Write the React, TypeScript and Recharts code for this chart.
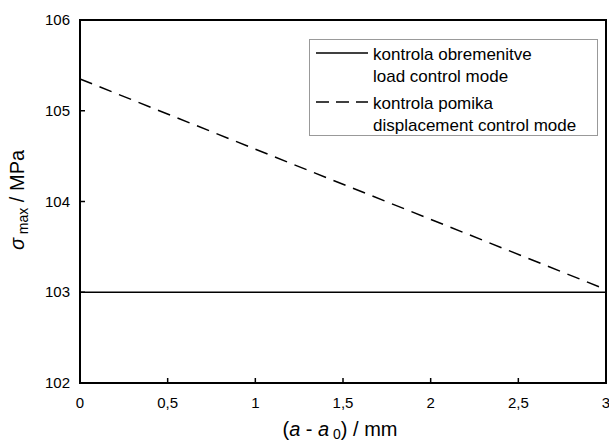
import React from 'react';
import { LineChart, Line, XAxis, YAxis, Legend, ReferenceArea, Label } from 'recharts';

const crackLength = [0, 3];
const loadControl = [103.0, 103.0];
const displacementControl = [105.35, 103.03];
const xTicks = [0, 0.5, 1, 1.5, 2, 2.5, 3];
const yTicks = [102, 103, 104, 105, 106];

const data = crackLength.map((x, i) => ({
  x,
  load: loadControl[i],
  disp: displacementControl[i],
}));

const FONT = '"Liberation Sans", Arial, sans-serif';

const XTick = (props: any) => {
  const { x, y, payload } = props;
  return (
    <g>
      <line x1={x} y1={y} x2={x} y2={y - 5} stroke="#000" strokeWidth={1.5} />
      <text x={x} y={y + 25} textAnchor="middle" fontSize={15} fontFamily={FONT} fill="#000">
        {String(payload.value).replace('.', ',')}
      </text>
    </g>
  );
};

const YTick = (props: any) => {
  const { x, y, payload } = props;
  return (
    <g>
      <line x1={x} y1={y} x2={x + 5} y2={y} stroke="#000" strokeWidth={1.5} />
      <text x={x - 10} y={y + 5} textAnchor="end" fontSize={15} fontFamily={FONT} fill="#000">
        {payload.value}
      </text>
    </g>
  );
};

const LegendBox = () => (
  <div style={{ width: 289, height: 97, border: '1px solid #999', boxSizing: 'border-box', background: '#fff' }}>
    <svg width={287} height={95} style={{ display: 'block' }}>
      <line x1={6} y1={13} x2={58} y2={13} stroke="#000" strokeWidth={1.5} />
      <text x={63} y={20} fontSize={17} fontFamily={FONT} fill="#000">kontrola obremenitve</text>
      <text x={63} y={42} fontSize={17} fontFamily={FONT} fill="#000">load control mode</text>
      <line x1={6} y1={62} x2={58} y2={62} stroke="#000" strokeWidth={1.5} strokeDasharray="13 7" />
      <text x={63} y={69} fontSize={17} fontFamily={FONT} fill="#000">kontrola pomika</text>
      <text x={63} y={91} fontSize={17} fontFamily={FONT} fill="#000">displacement control mode</text>
    </svg>
  </div>
);

export default function App() {
  return (
    <div style={{ position: 'absolute', left: 0, top: 0, background: '#fff' }}>
      <LineChart width={609} height={442} data={data} margin={{ top: 20, right: 3, left: 0, bottom: 0 }}>
        <XAxis
          dataKey="x"
          type="number"
          domain={[0, 3]}
          ticks={xTicks}
          axisLine={false}
          tickLine={false}
          tickSize={0}
          tickMargin={0}
          tick={<XTick />}
          height={59}
          interval={0}
        >
          <Label
            content={() => (
              <text x={340} y={436} textAnchor="middle" fontSize={20} fontFamily={FONT} fill="#000">
                <tspan>(</tspan>
                <tspan fontStyle="italic">a</tspan>
                <tspan> - </tspan>
                <tspan fontStyle="italic">a</tspan>
                <tspan fontSize={14} dy={3}> 0</tspan>
                <tspan dy={-3}>) / mm</tspan>
              </text>
            )}
          />
        </XAxis>
        <YAxis
          type="number"
          domain={[102, 106]}
          ticks={yTicks}
          axisLine={false}
          tickLine={false}
          tickSize={0}
          tickMargin={0}
          tick={<YTick />}
          width={80}
          interval={0}
        >
          <Label
            content={() => (
              <text
                x={24}
                y={200}
                textAnchor="middle"
                fontSize={20}
                fontFamily={FONT}
                fill="#000"
                transform="rotate(-90 24 200)"
              >
                <tspan fontStyle="italic">σ</tspan>
                <tspan fontSize={14} dy={4}> max</tspan>
                <tspan dy={-4}> / MPa</tspan>
              </text>
            )}
          />
        </YAxis>
        <ReferenceArea x1={0} x2={3} y1={102} y2={106} fill="none" stroke="#000" strokeWidth={2} />
        <Legend
          layout="horizontal"
          verticalAlign="middle"
          align="center"
          content={() => <LegendBox />}
          wrapperStyle={{ position: 'absolute', left: 309, top: 39, width: 289, height: 97 }}
        />
        <Line
          dataKey="load"
          stroke="#000"
          strokeWidth={1.5}
          dot={false}
          isAnimationActive={false}
          name="load control mode"
        />
        <Line
          dataKey="disp"
          stroke="#000"
          strokeWidth={1.5}
          strokeDasharray="13 8"
          dot={false}
          isAnimationActive={false}
          name="displacement control mode"
        />
      </LineChart>
    </div>
  );
}
